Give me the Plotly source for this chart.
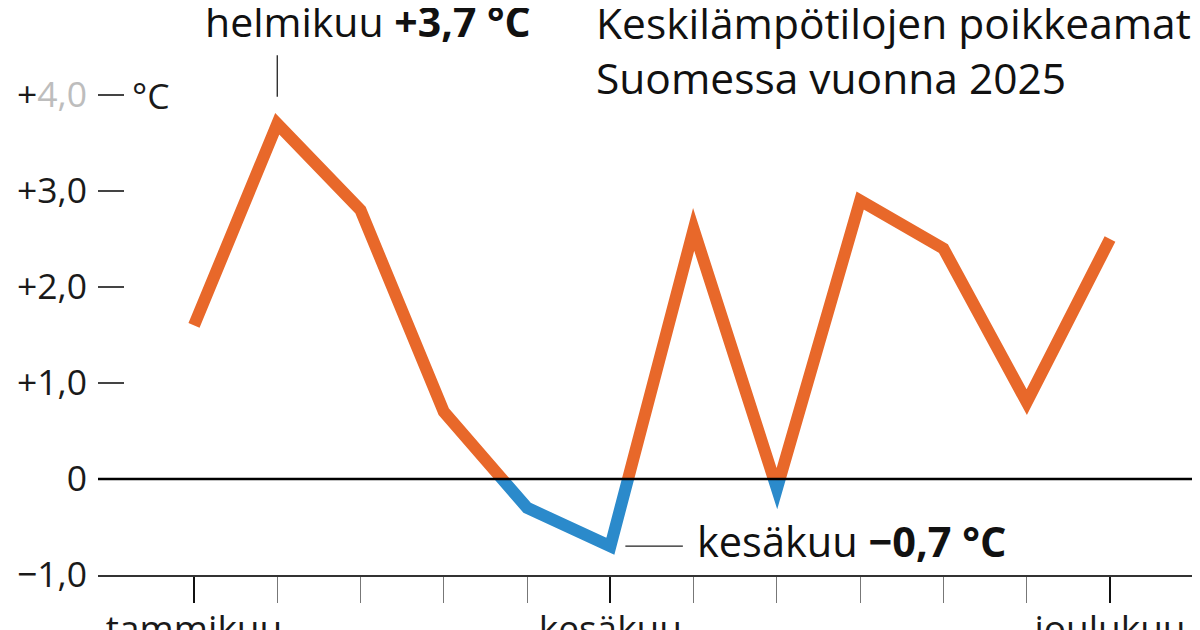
import plotly.graph_objects as go

# ---- data ----
months = [1, 2, 3, 4, 5, 6, 7, 8, 9, 10, 11, 12]
anomaly = [1.6, 3.7, 2.8, 0.7, -0.3, -0.7, 2.6, -0.1, 2.9, 2.4, 0.8, 2.5]
x_tick_vals = [1, 6, 12]
x_tick_text = ["tammikuu", "kesäkuu", "joulukuu"]
y_tick_vals_pos = [0, 1, 2, 3, 4]
y_tick_text_pos = ["0", "+1,0", "+2,0", "+3,0", "+<span style='color:#bdbdbd'>4,0</span>"]
y_tick_vals_neg = [-1]
y_tick_text_neg = ["\u22121,0"]
title_lines = ["Keskilämpötilojen poikkeamat", "Suomessa vuonna 2025"]
max_label = "helmikuu <b>+3,7 °C</b>"
min_label = "kesäkuu <b>\u22120,7 °C</b>"

ORANGE = "#E8682A"
BLUE = "#2B8ACB"
FONT = "Open Sans"

# ---- layout geometry (figure sits 8px inside the page because of body margin) ----
OFF = 8
W, H = 1200 - OFF, 630 - OFF
ML, MR, MT, MB = 98 - OFF, 0, 20 - OFF, 630 - 575
plot_h = H - MT - MB
unit_px = 96
zero_px = 479 - OFF
top_val = (zero_px - MT) / unit_px
zfrac = (H - MB - zero_px) / plot_h
step = (1110 - 194) / 11
x_first = 194 - OFF
x_lo = 1 - (x_first - ML) / step
x_hi = x_lo + (W - ML) / step

fig = go.Figure()
fig.add_trace(go.Scatter(x=months, y=anomaly, mode="lines",
                         line=dict(color=ORANGE, width=12),
                         xaxis="x", yaxis="y", hoverinfo="skip", showlegend=False))
fig.add_trace(go.Scatter(x=months, y=anomaly, mode="lines",
                         line=dict(color=BLUE, width=12),
                         xaxis="x", yaxis="y2", hoverinfo="skip", showlegend=False))

ytickfont = dict(family=FONT, size=35.5, color="#1a1a1a")
xtickfont = dict(family=FONT, size=37, color="#1a1a1a")

fig.update_layout(
    width=W, height=H,
    margin=dict(l=ML, r=MR, t=MT, b=MB, autoexpand=False),
    paper_bgcolor="white", plot_bgcolor="white",
    showlegend=False,
    xaxis=dict(range=[x_lo, x_hi], anchor="y2", automargin=False,
               showgrid=False, zeroline=False,
               showline=True, linecolor="#333", linewidth=1.5,
               tickmode="array", tickvals=x_tick_vals, ticktext=x_tick_text,
               ticks="outside", ticklen=26, tickwidth=2, tickcolor="#111",
               tickfont=xtickfont, ticklabelstandoff=-5,
               minor=dict(ticks="outside", ticklen=26, tickwidth=1, tickcolor="#777",
                          tickmode="array", tickvals=months, showgrid=False)),
    yaxis=dict(domain=[zfrac, 1], range=[0, top_val], automargin=False,
               showgrid=False, zeroline=False,
               showline=False, tickmode="array", tickvals=y_tick_vals_pos,
               ticktext=y_tick_text_pos, ticks="inside", ticklen=26, tickwidth=1.5,
               tickcolor="#444", tickfont=ytickfont, ticklabelstandoff=10),
    yaxis2=dict(domain=[0, zfrac], range=[-1, 0], automargin=False,
                showgrid=False, zeroline=False,
                showline=False, tickmode="array", tickvals=y_tick_vals_neg,
                ticktext=y_tick_text_neg, ticks="", tickfont=ytickfont,
                ticklabelstandoff=10),
)

# zero reference line (paper y so it is not clipped at the subplot edge)
fig.add_shape(type="line", xref="paper", x0=0, x1=1, yref="paper", y0=zfrac, y1=zfrac,
              line=dict(color="#000", width=2.5), layer="above")

# unit label
fig.add_annotation(xref="paper", x=0, xshift=32, xanchor="left",
                   yref="y", y=4, yanchor="middle", showarrow=False,
                   text="°C", font=dict(family=FONT, size=35.5, color="#1a1a1a"))

# max annotation
fig.add_annotation(x=2, y=3.7, xref="x", yref="y", text="", showarrow=True,
                   arrowhead=0, arrowwidth=1.3, arrowcolor="#222",
                   ax=0, ay=-70, standoff=27)
fig.add_annotation(x=2, y=3.7, xref="x", yref="y", text=max_label, showarrow=False,
                   xanchor="left", xshift=-74, yanchor="middle", yshift=103,
                   font=dict(family=FONT, size=41, color="#111"))

# min annotation
fig.add_annotation(x=6, y=-0.7, xref="x", yref="y2", text="", showarrow=True,
                   arrowhead=0, arrowwidth=1.3, arrowcolor="#222",
                   ax=74, ay=0, standoff=15)
fig.add_annotation(x=6, y=-0.7, xref="x", yref="y2", text=min_label, showarrow=False,
                   xanchor="left", xshift=85, yanchor="middle", yshift=5,
                   font=dict(family=FONT, size=41.5, color="#111"))

# title
fig.add_annotation(xref="paper", yref="paper", x=(594 - OFF - ML) / (W - ML), xanchor="left",
                   y=1, yshift=MT + 16, yanchor="top", align="left", showarrow=False,
                   text="<br>".join(title_lines),
                   font=dict(family=FONT, size=42.5, color="#111"))

post = """
var gd = document.getElementById('{plot_id}');
function fixJoins(){
  gd.querySelectorAll('.scatterlayer path.js-line').forEach(function(p){
    p.style.strokeLinejoin = 'miter';
    p.style.strokeMiterlimit = '10';
  });
}
fixJoins();
if (gd.on) { gd.on('plotly_afterplot', fixJoins); }
"""

fig.write_html("out.html", post_script=post)
